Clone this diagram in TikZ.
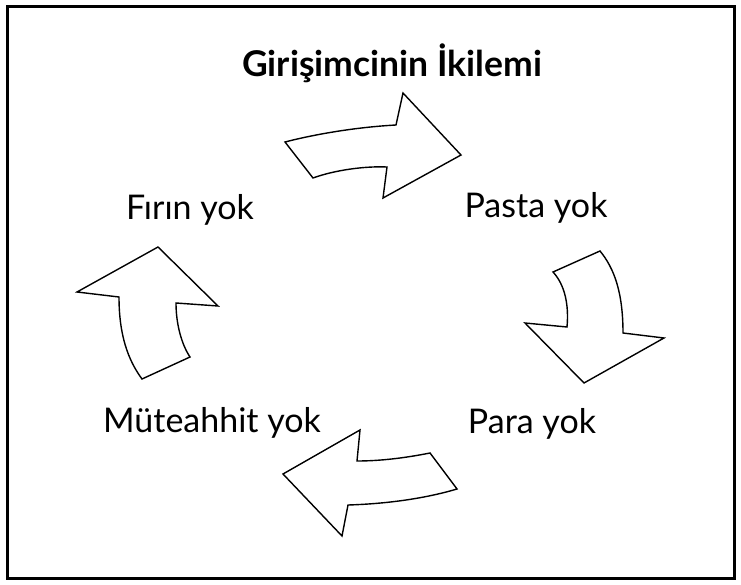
\documentclass[tikz,border=0pt]{standalone}
\usepackage{fontspec}
\setmainfont{Lato}
\usepackage{tikz}
\usetikzlibrary{positioning,calc}

\tikzset{
    lbl/.style={anchor=base, inner sep=0pt, font=\fontsize{34}{40}\selectfont},
    ttl/.style={lbl, font=\fontsize{35.5}{42}\selectfont\bfseries},
    blockarrow/.style={draw=black, line width=1.4pt, fill=white, line join=miter}
}

\begin{document}
\begin{tikzpicture}[x=1pt, y=-1pt]
    \useasboundingbox (0,0) rectangle (741,585);
    % Frame
    \draw[line width=3pt] (7,7) rectangle (734,578);

    % Labels
    \node[ttl] (title) at (392,77) {Girişimcinin İkilemi};
    \node[lbl] (firin) at (190,220) {Fırın yok};
    \node[lbl] (pasta) at (536,218) {Pasta yok};
    \node[lbl] (para) at (532,433) {Para yok};
    \node[lbl] (muteahhit) at (212,432) {Müteahhit yok};

    % Top arrow
    \draw[blockarrow] (285,142) .. controls (320,133) and (360,127) .. (396,125) -- (403,93)
        -- (461,155) -- (383,198) -- (387,167) .. controls (365,166) and (335,170) .. (313,178) -- cycle;

    % Right arrow
    \draw[blockarrow] (553,272) -- (600,251) .. controls (614,268) and (623,292) .. (623,333)
        -- (664,338) -- (584,383) -- (525,323) -- (567,327) .. controls (569,305) and (565,285) .. (553,272) -- cycle;

    % Bottom arrow
    \draw[blockarrow] (283,474) -- (360,430) -- (357,461) .. controls (380,461) and (405,458) .. (430,453)
        -- (457,489) .. controls (420,500) and (380,504) .. (348,505) -- (342,536) -- cycle;

    % Left arrow
    \draw[blockarrow] (158,247) -- (218,306) -- (176,303) .. controls (176,325) and (182,345) .. (190,357)
        -- (142,379) .. controls (128,360) and (119,335) .. (119,297) -- (77,292) -- cycle;
\end{tikzpicture}
\end{document}
